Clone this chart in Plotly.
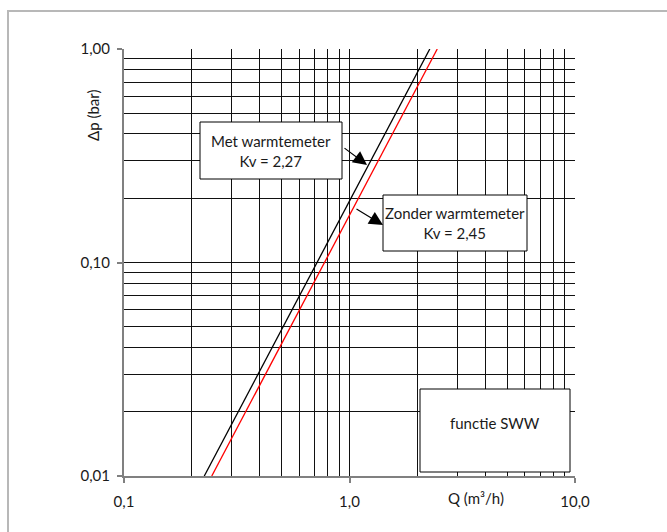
import plotly.graph_objects as go

# ---- data ----
q_met = [0.227, 2.27]          # Q (m3/h), met warmtemeter, Kv = 2,27
dp_met = [0.01, 1.00]          # delta p (bar)
q_zonder = [0.245, 2.45]       # Q (m3/h), zonder warmtemeter, Kv = 2,45
dp_zonder = [0.01, 1.00]       # delta p (bar)

x_tickvals = [0.1, 1, 10]
x_ticktext = ["0,1", "1,0", "10,0"]
y_tickvals = [0.01, 0.1, 1]
y_ticktext = ["0,01", "0,10", "1,00"]
x_minor = [0.2, 0.3, 0.4, 0.5, 0.6, 0.7, 0.8, 0.9, 2, 3, 4, 5, 6, 7, 8, 9]
y_minor = [0.02, 0.03, 0.04, 0.05, 0.06, 0.07, 0.08, 0.09,
           0.2, 0.3, 0.4, 0.5, 0.6, 0.7, 0.8, 0.9]

label_met = "Met warmtemeter<br>Kv = 2,27"
label_zonder = "Zonder warmtemeter<br>Kv = 2,45"
label_func = "functie SWW"
x_title = "Q (m³/h)"
y_title = "Δp (bar)"

# ---- layout geometry (pixels) ----
W, H = 667, 532
L, R, T, B = 124, 575, 49, 476


def px(X):
    return (X - L) / (R - L)


def py(Y):
    return (B - Y) / (B - T)


FONT = "Lato, 'Open Sans', sans-serif"
TXT = "#1a1a1a"

fig = go.Figure()
fig.add_trace(go.Scatter(x=q_met, y=dp_met, mode="lines",
                         line=dict(color="black", width=1.3), hoverinfo="skip"))
fig.add_trace(go.Scatter(x=q_zonder, y=dp_zonder, mode="lines",
                         line=dict(color="#ff0000", width=1.3), hoverinfo="skip"))

axis_common = dict(
    type="log",
    ticks="outside", ticklen=5, tickwidth=2, tickcolor="#808080",
    showline=True, linecolor="#808080", linewidth=2,
    showgrid=True, gridcolor="#111111", gridwidth=1,
    zeroline=False, automargin=False,
    tickfont=dict(family=FONT, size=15, color=TXT),
)

fig.update_layout(
    width=W, height=H,
    margin=dict(l=L, r=W - R, t=T, b=H - B),
    paper_bgcolor="white", plot_bgcolor="white",
    showlegend=False,
    font=dict(family=FONT, size=15, color=TXT),
    xaxis=dict(range=[-1, 1], tickvals=x_tickvals, ticktext=x_ticktext,
               ticklabelstandoff=6,
               minor=dict(tickvals=x_minor, showgrid=True, gridcolor="#111111",
                          gridwidth=1, ticks=""),
               **axis_common),
    yaxis=dict(range=[-2, 0], tickvals=y_tickvals, ticktext=y_ticktext,
               ticklabelstandoff=4,
               minor=dict(tickvals=y_minor, showgrid=True, gridcolor="#111111",
                          gridwidth=1, ticks=""),
               **axis_common),
)

shapes = []
# outer frame (only top and left edges fall inside the picture)
shapes.append(dict(type="rect", xref="paper", yref="paper",
                   x0=px(8), y0=py(11), x1=px(720), y1=py(600),
                   line=dict(color="#b8b8b8", width=2), fillcolor="rgba(0,0,0,0)",
                   layer="below"))
# label boxes
for (x0, y0, x1, y1) in [(200, 122, 342, 179), (383, 195, 527, 251), (420, 389, 570, 472)]:
    shapes.append(dict(type="rect", xref="paper", yref="paper",
                       x0=px(x0), y0=py(y1), x1=px(x1), y1=py(y0),
                       line=dict(color="black", width=1), fillcolor="white",
                       layer="above"))
fig.update_layout(shapes=shapes)

ann = []
ann.append(dict(text=label_met, x=px(271), y=py(150.5), xref="paper", yref="paper",
                showarrow=False, xanchor="center", yanchor="middle",
                font=dict(family=FONT, size=15, color=TXT)))
ann.append(dict(text=label_zonder, x=px(455), y=py(223), xref="paper", yref="paper",
                showarrow=False, xanchor="center", yanchor="middle",
                font=dict(family=FONT, size=15, color=TXT)))
ann.append(dict(text=label_func, x=px(495), y=py(423), xref="paper", yref="paper",
                showarrow=False, xanchor="center", yanchor="middle",
                font=dict(family=FONT, size=15, color=TXT)))
# arrows
ann.append(dict(text="", x=px(367), y=py(165), xref="paper", yref="paper",
                showarrow=True, ax=-24, ay=-18, arrowhead=2, arrowsize=2.3,
                arrowwidth=1.2, arrowcolor="black", standoff=0))
ann.append(dict(text="", x=px(383), y=py(225), xref="paper", yref="paper",
                showarrow=True, ax=-28, ay=-17, arrowhead=2, arrowsize=2.3,
                arrowwidth=1.2, arrowcolor="black", standoff=0))
# axis titles
ann.append(dict(text=y_title, x=px(93), y=py(116), xref="paper", yref="paper",
                showarrow=False, textangle=-90, xanchor="center", yanchor="middle",
                font=dict(family=FONT, size=15, color=TXT)))
ann.append(dict(text=x_title, x=px(476), y=py(498), xref="paper", yref="paper",
                showarrow=False, xanchor="center", yanchor="middle",
                font=dict(family=FONT, size=15, color=TXT)))
fig.update_layout(annotations=ann)

fig.write_html("out.html")
